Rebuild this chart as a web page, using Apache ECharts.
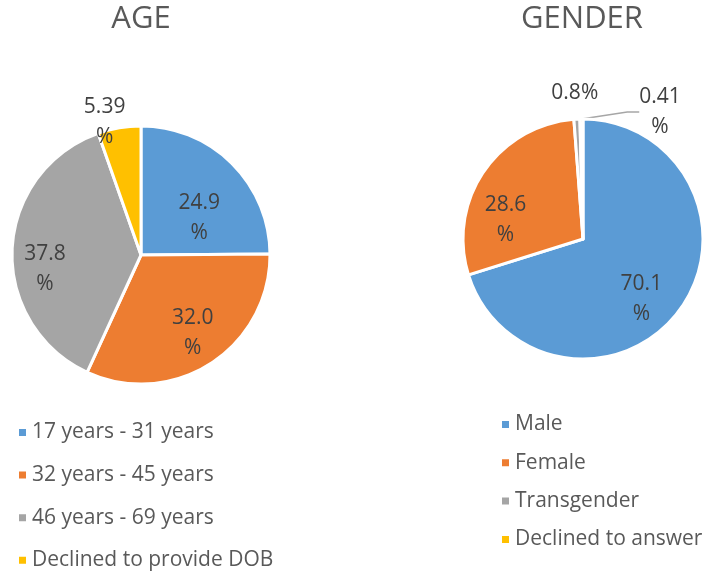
<!DOCTYPE html>
<html>
<head>
<meta charset="utf-8">
<script src="https://cdn.jsdelivr.net/npm/echarts@6/dist/echarts.min.js"></script>
<style>
  html, body { margin: 0; padding: 0; background: #fff; }
  #chart { width: 704px; height: 575px; }
</style>
</head>
<body>
<div id="chart"></div>
<script>
const ageCategories = ['17 years - 31 years', '32 years - 45 years', '46 years - 69 years', 'Declined to provide DOB']
const ageValues = [24.9, 32.0, 37.8, 5.39]
const ageLabels = ['24.9\n%', '32.0\n%', '37.8\n%', '5.39\n%']

const genderCategories = ['Male', 'Female', 'Transgender', 'Declined to answer']
const genderValues = [70.1, 28.6, 0.8, 0.41]
const genderLabels = ['70.1\n%', '28.6\n%', '0.8%', '0.41\n%']

const colors = ['#5B9BD5', '#ED7D31', '#A5A5A5', '#FFC000']
const font = '"Open Sans", "Noto Sans", sans-serif'

// shift from the default label spot to where the original put it
const ageNudge = [[10.6, 11.3], [15, 21.8], [-28.6, 17.4], [-25, -66]]
const genderNudge = [[7.6, 22.5], [-25.3, 16.6], [-5, -83]]

const chart = echarts.init(document.getElementById('chart'))

const labelBase = {
  position: 'inside',
  color: '#404040',
  fontSize: 21,
  lineHeight: 30,
  fontFamily: font,
}

const makeData = (names, values, labels) =>
  values.map((v, i) => ({
    name: names[i],
    value: v,
    label: { formatter: labels[i] },
  }))

const genderData = makeData(genderCategories, genderValues, genderLabels)
genderData[3].label.position = 'outside'
genderData[3].labelLine = {
  show: true,
  length: 15,
  length2: 12,
  lineStyle: { color: '#A6A6A6', width: 1.5 },
}

const legendBase = {
  orient: 'vertical',
  icon: 'rect',
  itemWidth: 9,
  itemHeight: 9,
  padding: 0,
  selectedMode: false,
  textStyle: { color: '#595959', fontSize: 21, lineHeight: 20, fontFamily: font, padding: [0, 0, 0, 0] },
}

const titleStyle = { color: '#595959', fontSize: 31, fontWeight: 'normal', fontFamily: font }

const option = {
  color: colors,
  animation: false,
  title: [
    { text: 'AGE', left: 141, top: 4, padding: 0, textAlign: 'center', textStyle: titleStyle },
    { text: 'GENDER', left: 582, top: 4, padding: 0, textAlign: 'center', textStyle: titleStyle },
  ],
  legend: [
    { ...legendBase, data: ageCategories, left: 17, top: 422, itemGap: 21.6 },
    { ...legendBase, data: genderCategories, left: 500, top: 414, itemGap: 17.3 },
  ],
  series: [
    {
      type: 'pie',
      center: [141, 255],
      radius: 129,
      avoidLabelOverlap: false,
      itemStyle: { borderColor: '#fff', borderWidth: 3 },
      label: labelBase,
      labelLine: { show: false },
      labelLayout: (p) => ({ dx: ageNudge[p.dataIndex][0], dy: ageNudge[p.dataIndex][1] }),
      data: makeData(ageCategories, ageValues, ageLabels),
    },
    {
      type: 'pie',
      center: [583, 239],
      radius: 120,
      avoidLabelOverlap: false,
      itemStyle: { borderColor: '#fff', borderWidth: 3 },
      label: labelBase,
      labelLine: { show: false },
      labelLayout: (p) => {
        if (p.dataIndex === 3) {
          // the leader-line label sits off to the right, like in the original
          return { x: 660, y: 112, align: 'center', verticalAlign: 'middle' }
        }
        return { dx: genderNudge[p.dataIndex][0], dy: genderNudge[p.dataIndex][1] }
      },
      data: genderData,
    },
  ],
}

chart.setOption(option)
</script>
</body>
</html>
